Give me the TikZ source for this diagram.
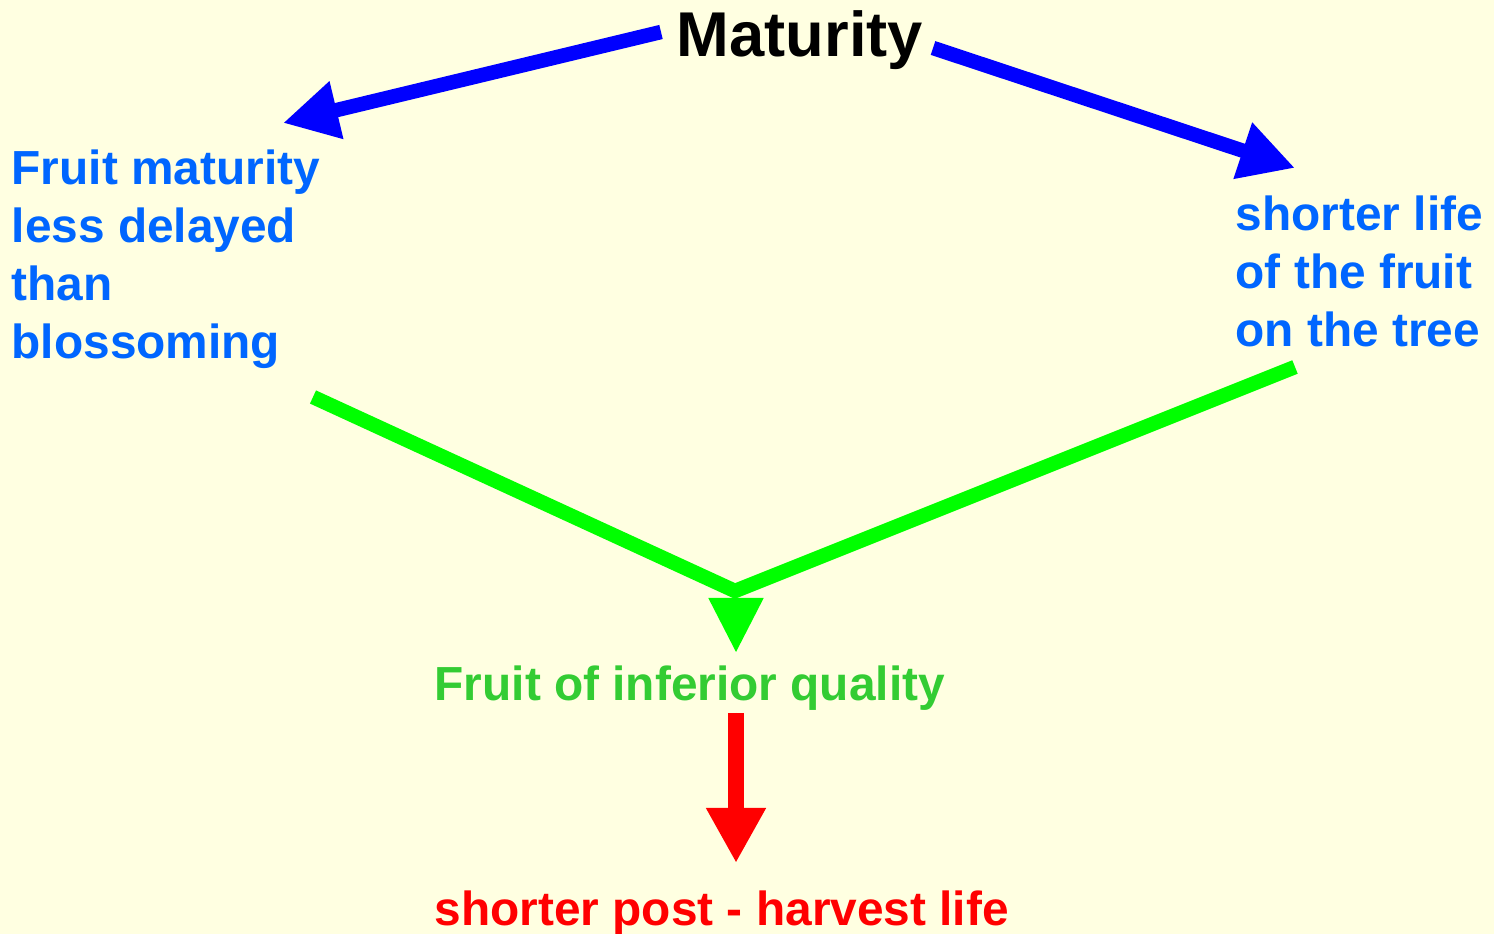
\documentclass[tikz,border=0pt]{standalone}
\usepackage{fontspec}
\setmainfont{Liberation Sans}
\usetikzlibrary{arrows.meta}
\definecolor{paper}{RGB}{255,255,225}
\definecolor{linkblue}{RGB}{0,0,255}
\definecolor{labelblue}{RGB}{0,102,255}
\definecolor{linkgreen}{RGB}{0,255,0}
\definecolor{labelgreen}{RGB}{51,204,51}
\definecolor{alertred}{RGB}{255,0,0}
\begin{document}
\begin{tikzpicture}[x=0.01cm,y=-0.01cm,
  label text/.style={inner sep=0pt, align=left,
    font=\fontsize{13.6pt}{16.5pt}\selectfont\bfseries},
  blue link/.style={draw=linkblue, fill=linkblue, line width=0.145cm,
    -{Triangle[length=0.55cm,width=0.555cm]}},
  green link/.style={draw=linkgreen, line width=0.145cm, miter limit=10},
  green head/.style={draw=linkgreen, fill=linkgreen, line width=0.5pt,
    -{Triangle[length=0.54cm,width=0.55cm]}},
  red link/.style={draw=alertred, fill=alertred, line width=0.16cm,
    -{Triangle[length=0.55cm,width=0.56cm]}}
]
% page and background
\fill[paper] (0,0) rectangle (1494,934);
\useasboundingbox (0,0) rectangle (1494,934);

% texts
\node[inner sep=0pt, anchor=base, font=\fontsize{18pt}{20pt}\selectfont\bfseries]
  (mat) at (800,57) {Maturity};
\node[label text, text=labelblue, anchor=north west] (early) at (11,149)
  {Fruit maturity\\less delayed\\than\\blossoming};
\node[label text, text=labelblue, anchor=north west] (short) at (1235,195)
  {shorter life\\of the fruit\\on the tree};
\node[label text, text=labelgreen, anchor=base west] (poor) at (434,700)
  {Fruit of inferior quality};
\node[label text, text=alertred, anchor=base west] (post) at (434,925)
  {shorter post - harvest life};

% connector end points
\coordinate (matL) at (661,32);
\coordinate (matR) at (933,48);
\coordinate (earlyT) at (283,123);
\coordinate (shortT) at (1295,168);
\coordinate (earlyB) at (313,397);
\coordinate (shortB) at (1295,367);
\coordinate (meet) at (735,591);
\coordinate (headTop) at (736,597);
\coordinate (poorT) at (736,652);
\coordinate (poorB) at (736,713);
\coordinate (postT) at (736,863);

% arrows
\draw[blue link] (matL) -- (earlyT);
\draw[blue link] (matR) -- (shortT);
\draw[green link] (earlyB) -- (meet) -- (shortB);
\draw[green head] (headTop) -- (poorT);
\draw[red link] (poorB) -- (postT);
\end{tikzpicture}
\end{document}
